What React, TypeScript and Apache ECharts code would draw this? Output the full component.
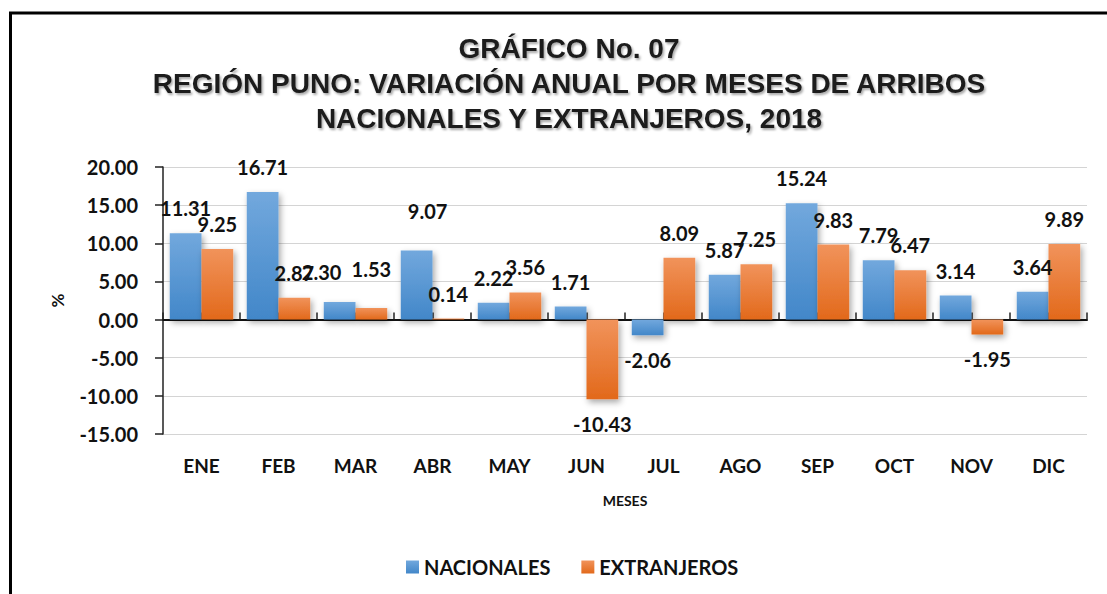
import React, { useEffect, useRef } from "react";
import * as echarts from "echarts";

const categories = ["ENE", "FEB", "MAR", "ABR", "MAY", "JUN", "JUL", "AGO", "SEP", "OCT", "NOV", "DIC"];
const nacionales = [11.31, 16.71, 2.3, 9.07, 2.22, 1.71, -2.06, 5.87, 15.24, 7.79, 3.14, 3.64];
const extranjeros = [9.25, 2.87, 1.53, 0.14, 3.56, -10.43, 8.09, 7.25, 9.83, 6.47, -1.95, 9.89];
const yTicks = { min: -15, max: 20, interval: 5 };

// manual label adjustments as in the original (presentation only)
const nacLabelShift: Record<number, [number, number]> = { 2: [-18, -5], 3: [11, -14] };
const extLabelShift: Record<number, [number, number]> = { 2: [0, -14] };

const FONT = "Lato, 'Open Sans', sans-serif";

function buildData(values: number[], shifts: Record<number, [number, number]>) {
  return values.map((v, i) => ({
    value: v,
    label: {
      position: v < 0 ? "bottom" : "top",
      offset: shifts[i] || [0, 0],
    },
  }));
}

export default function App() {
  const ref = useRef<HTMLDivElement>(null);
  useEffect(() => {
    if (!ref.current) return;
    const chart = echarts.init(ref.current, null, { renderer: "svg" });
    const blue = new echarts.graphic.LinearGradient(0, 0, 0, 1, [
      { offset: 0, color: "#72a8dd" },
      { offset: 1, color: "#4287c9" },
    ]);
    const orange = new echarts.graphic.LinearGradient(0, 0, 0, 1, [
      { offset: 0, color: "#f1935b" },
      { offset: 1, color: "#e2691b" },
    ]);
    const barShadow = {
      shadowColor: "rgba(0,0,0,0.35)",
      shadowBlur: 6,
      shadowOffsetX: 2,
      shadowOffsetY: 3,
    };
    const labelStyle = {
      show: true,
      distance: 15,
      fontFamily: FONT,
      fontWeight: "bold",
      fontSize: 20,
      color: "#111",
      formatter: (p: any) => Number(p.value).toFixed(2),
    };
    chart.setOption({
      animation: false,
      backgroundColor: "#fff",
      title: {
        text: "GRÁFICO No. 07\nREGIÓN PUNO: VARIACIÓN ANUAL POR MESES DE ARRIBOS\nNACIONALES Y EXTRANJEROS, 2018",
        left: 564,
        textAlign: "center",
        top: 26,
        textStyle: {
          fontFamily: "'Liberation Sans', Arial, sans-serif",
          fontWeight: "bold",
          fontSize: 28,
          lineHeight: 35,
          color: "#1a1a1a",
          textShadowColor: "rgba(0,0,0,0.35)",
          textShadowBlur: 2,
          textShadowOffsetX: 1.5,
          textShadowOffsetY: 2,
        },
      },
      legend: {
        left: 401,
        top: 552,
        itemWidth: 13,
        itemHeight: 13,
        itemGap: 31,
        icon: "rect",
        textStyle: { fontFamily: FONT, fontWeight: "bold", fontSize: 20, color: "#111" },
        data: ["NACIONALES", "EXTRANJEROS"],
      },
      grid: { left: 163, right: 20, top: 167, bottom: 160 },
      xAxis: [
        {
          type: "category",
          data: categories,
          position: "bottom",
          axisLine: { show: false, onZero: false },
          axisTick: { show: false },
          axisLabel: { fontFamily: FONT, fontWeight: "bold", fontSize: 19, color: "#111", margin: 22 },
          name: "MESES",
          nameLocation: "middle",
          nameGap: 59,
          nameTextStyle: { fontFamily: FONT, fontWeight: "bold", fontSize: 14, color: "#111" },
        },
        {
          type: "value",
          min: 0,
          max: 12,
          interval: 0.5,
          axisLine: { show: true, onZero: true, lineStyle: { color: "#111", width: 2 } },
          axisTick: { show: true, length: 7, lineStyle: { color: "#222", width: 1.5 } },
          axisLabel: { show: false },
          splitLine: { show: false },
        },
      ],
      yAxis: {
        type: "value",
        min: yTicks.min,
        max: yTicks.max,
        interval: yTicks.interval,
        axisLine: { show: true, lineStyle: { color: "#222", width: 1.5 } },
        axisTick: { show: true, length: 8, lineStyle: { color: "#222", width: 1.5 } },
        axisLabel: {
          fontFamily: FONT,
          fontWeight: "bold",
          fontSize: 20,
          color: "#111",
          margin: 25,
          formatter: (v: number) => v.toFixed(2),
        },
        splitLine: { lineStyle: { color: "#d4d4d4", width: 1.2 } },
        name: "%",
        nameLocation: "middle",
        nameGap: 97,
        nameRotate: 90,
        nameTextStyle: { fontFamily: FONT, fontWeight: "bold", fontSize: 17, color: "#111" },
      },
      series: [
        {
          name: "NACIONALES",
          type: "bar",
          xAxisIndex: 0,
          barGap: "0%",
          barCategoryGap: "17.6%",
          data: buildData(nacionales, nacLabelShift),
          itemStyle: { color: blue, ...barShadow },
          label: labelStyle,
        },
        {
          name: "EXTRANJEROS",
          type: "bar",
          xAxisIndex: 0,
          barGap: "0%",
          barCategoryGap: "17.6%",
          data: buildData(extranjeros, extLabelShift),
          itemStyle: { color: orange, ...barShadow },
          label: labelStyle,
        },
      ],
      color: ["#5b9bd5", "#ed7d31"],
      graphic: [
        {
          type: "polyline",
          shape: { points: [[10.5, 700], [10.5, 13], [1200, 13]] },
          style: { stroke: "#000", lineWidth: 3, fill: "none" },
          silent: true,
        },
      ],
    });
    return () => chart.dispose();
  }, []);
  return (
    <div
      ref={ref}
      style={{ position: "fixed", left: 0, top: 0, width: 1107, height: 594 }}
    />
  );
}
